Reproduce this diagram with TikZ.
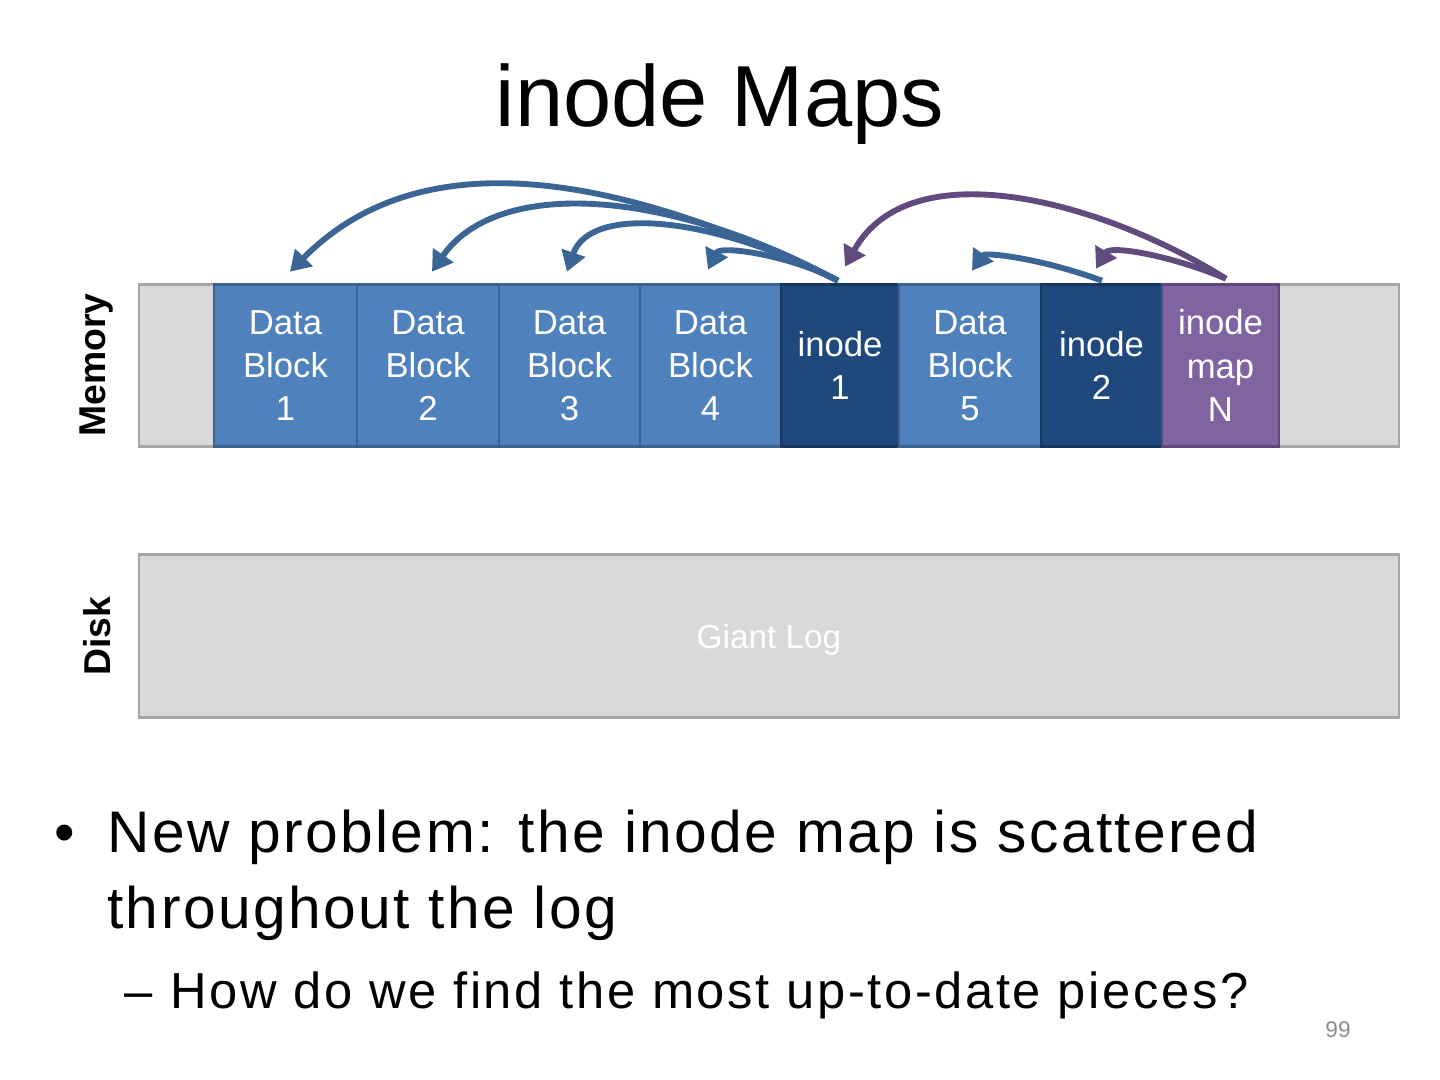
\documentclass[tikz,border=0pt]{standalone}
\usepackage{fontspec}
\setmainfont{Liberation Sans}
\usetikzlibrary{arrows.meta,calc}
\definecolor{lblue}{HTML}{4F81BD}
\definecolor{lblueb}{HTML}{3A6192}
\definecolor{dblue}{HTML}{1F497D}
\definecolor{dblueb}{HTML}{18385F}
\definecolor{purp}{HTML}{8064A2}
\definecolor{purpb}{HTML}{5E4879}
\definecolor{barfill}{HTML}{D9D9D9}
\definecolor{barline}{HTML}{A6A6A6}
\definecolor{arrblue}{HTML}{3A6595}
\definecolor{arrpurp}{HTML}{604A7E}
\tikzset{
  blk/.style={inner sep=0pt, minimum height=122pt, text=white, align=center,
    font=\fontsize{26}{32.3}\selectfont, line width=2.2pt},
  datab/.style={blk, fill=lblue, draw=lblueb},
  inob/.style={blk, fill=dblue, draw=dblueb},
  mapb/.style={blk, fill=purp, draw=purpb},
  bar/.style={fill=barfill, draw=barline, line width=2.2pt, inner sep=0pt,
    minimum width=945pt, minimum height=122pt},
  lbl/.style={font=\bfseries\fontsize{28}{32}\selectfont, rotate=90},
  arr/.style={line width=4.4pt, -{Triangle[length=15pt,width=18pt]}},
  barr/.style={arr, draw=arrblue},
  parr/.style={arr, draw=arrpurp},
  bodytext/.style={anchor=base west, inner sep=0pt, font=\fontsize{44}{58}\selectfont\addfontfeature{LetterSpace=4.2}},
  subtext/.style={anchor=base west, inner sep=0pt, font=\fontsize{38}{46}\selectfont\addfontfeature{LetterSpace=5.2}},
}
\begin{document}
\begin{tikzpicture}[x=0.75pt,y=-0.75pt]
\useasboundingbox (0,0) rectangle (1440,1080);
\fill[white] (0,0) rectangle (1440,1080);
% title
\node[anchor=base, font=\fontsize{65}{78}\selectfont] (title) at (720,127) {inode Maps};
% bars
\node[bar] (mem) at (769,365.5) {};
\node[bar] (disk) at (769,636) {};
\node[text=white, font=\fontsize{25}{30}\selectfont] (glog) at (769,640) {Giant Log};
\node[lbl] (memlbl) at (97,365) {Memory};
\node[lbl] (disklbl) at (97,636) {Disk};
% blocks
\node[datab, minimum width=107.25pt] (db1) at (285.5,365.5) {Data\\Block\\1};
\node[datab, minimum width=106.5pt] (db2) at (428,365.5) {Data\\Block\\2};
\node[datab, minimum width=105.75pt] (db3) at (569.5,365.5) {Data\\Block\\3};
\node[datab, minimum width=105.75pt] (db4) at (710.5,365.5) {Data\\Block\\4};
\node[inob, minimum width=88.5pt] (in1) at (840,365.5) {inode\\1};
\node[datab, minimum width=106.5pt] (db5) at (970,365.5) {Data\\Block\\5};
\node[inob, minimum width=90.75pt] (in2) at (1101.5,365.5) {inode\\2};
\node[mapb, minimum width=87.75pt] (imap) at (1220.5,365.5) {inode\\map\\N};
% arrows from inode 1
\draw[barr] ($(in1.north)+(-2,-2)$) .. controls (590,160) and (410,150) .. ($(db1.north)+(4.5,-11)$);
\draw[barr] ($(in1.north)+(-2,-2)$) .. controls (660,185) and (495,180) .. ($(db2.north)+(4,-11)$);
\draw[barr] ($(in1.north)+(-2,-2)$) .. controls (710,215) and (590,205) .. ($(db3.north)+(-2.5,-11)$);
\draw[barr] ($(in1.north)+(-2,-2)$) .. controls (790,255) and (720,245) .. ($(db4.north)+(-2.5,-13)$);
% arrow from inode 2
\draw[barr] ($(in2.north)+(0.5,-2)$) .. controls (1040,258) and (985,252) .. ($(db5.north)+(2,-12)$);
% arrows from inode map
\draw[parr] ($(imap.north)+(5.5,-4)$) .. controls (1100,200) and (910,150) .. ($(in1.north)+(5,-16)$);
\draw[parr] ($(imap.north)+(5.5,-4)$) .. controls (1170,255) and (1110,245) .. ($(in2.north)+(-5.5,-14)$);
% bullets
\node[anchor=base, font=\fontsize{44}{58}\selectfont] (b1) at (65,852) {•};
\node[bodytext] (t1) at (107,852) {New problem: the inode map is scattered};
\node[bodytext] (t2) at (107,928) {throughout the log};
\node[anchor=base west, inner sep=0pt, font=\fontsize{38}{46}\selectfont] (d3) at (124,1008) {–};
\node[subtext] (t3) at (170,1008) {How do we find the most up-to-date pieces?};
\node[text=black!45, font=\fontsize{17}{20}\selectfont] (pg) at (1338,1030) {99};
\end{tikzpicture}
\end{document}
